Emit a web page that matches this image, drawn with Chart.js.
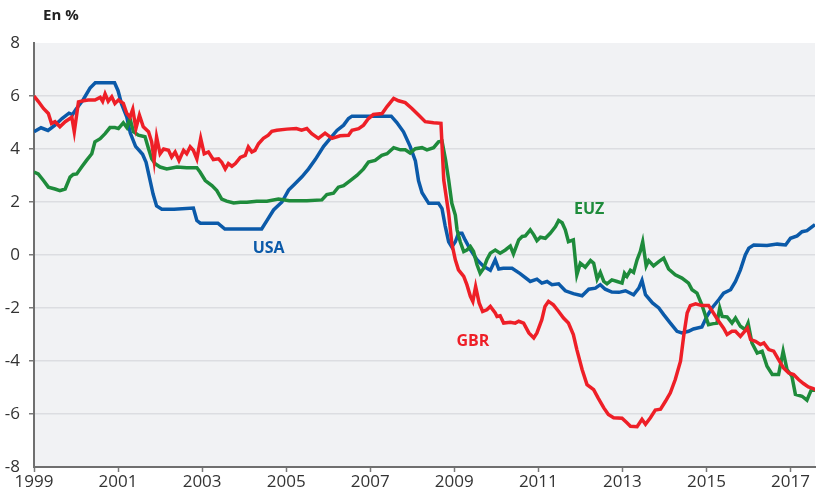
<!DOCTYPE html>
<html><head><meta charset="utf-8">
<script src="https://cdn.jsdelivr.net/npm/chart.js@4/dist/chart.umd.min.js"></script>
<style>html,body{margin:0;padding:0;background:#fff}#wrap{width:822px;height:493px;position:relative}</style>
</head><body><div id="wrap"><canvas id="c" width="822" height="493"></canvas></div>
<script>
// ---- data (months counted from January 1999) ----
const START_YEAR = 1999;
const END_MONTH = 223;
const yearTickLabels = ['1999','2001','2003','2005','2007','2009','2011','2013','2015','2017'];
const valueTicks = [-8,-6,-4,-2,0,2,4,6,8];
const unitLabel = 'En %';
const seriesNames = ['USA','EUZ','GBR'];

const usa = [[0,4.65],[2,4.8],[4,4.7],[6,4.9],[8,5.15],[10,5.35],[11,5.3],[12,5.5],[14,5.85],[16,6.3],
[17.5,6.5],[23,6.5],[24,6.2],[25,5.7],[26.5,5.2],[27.5,4.6],[29,4.1],[31,3.8],[32,3.5],[33,2.9],
[34,2.3],[35,1.85],[36.5,1.73],[40,1.73],[45.5,1.77],[46.5,1.3],[47.5,1.2],[52.5,1.2],[54.5,0.98],
[65,0.98],[66.5,1.3],[68.4,1.7],[70.8,2.0],[72.7,2.45],[74.6,2.7],[76.5,2.95],[78.4,3.25],[80.3,3.6],[82.7,4.1],
[84.6,4.4],[86.5,4.7],[88.4,4.9],[89.8,5.15],[90.8,5.24],[102,5.24],[103.6,5.0],[105.5,4.65],[107.4,4.1],[108.9,3.55],
[109.8,2.8],[110.8,2.35],[112.7,1.95],[115.5,1.95],
[116.5,1.75],[117.4,1.1],[118.4,0.5],[119.3,0.3],[120.3,0.5],[121.2,0.82],[122.2,0.82],[123.1,0.57],[124.6,0.2],[126.5,-0.18],
[128.4,-0.43],[130.3,-0.58],[131.7,-0.18],[132.7,-0.53],[134,-0.5],[136.5,-0.5],[138.8,-0.7],[141.7,-1.0],[143.6,-0.91],[145,-1.06],
[146.5,-1.0],[147.9,-1.12],[149.8,-1.09],[151.7,-1.35],[154,-1.46],[156.5,-1.54],[158.4,-1.29],[160.3,-1.25],[161.7,-1.12],[163.1,-1.29],
[165,-1.4],[167,-1.41],[168.9,-1.35],[171.2,-1.5],[172.7,-1.25],[173.6,-0.96],[174.6,-1.5],[176.6,-1.81],[178.4,-2.0],[179.8,-2.25],
[181.7,-2.57],[183.6,-2.88],[185,-2.94],[186.9,-2.88],[188.3,-2.79],[190.7,-2.72],[192.1,-2.32],[193.6,-2.0],[195.5,-1.69],[196.9,-1.44],
[198.9,-1.31],[200.3,-1.0],[201.7,-0.56],[203.1,0.0],[204.1,0.26],[205.5,0.38],[209.3,0.36],[212.2,0.41],[214.6,0.38],[216,0.63],
[217.9,0.72],[219.3,0.88],[220.7,0.92],[223,1.15]];

const euz = [[0,3.13],[1.2,3.06],[2.7,2.81],[4.1,2.56],[6,2.49],[7.4,2.43],[8.9,2.49],[10.3,2.94],[11.2,3.04],[12.2,3.06],
[13.6,3.32],[15,3.57],[16.5,3.82],[17.4,4.27],[18.9,4.39],[20.3,4.58],[21.7,4.81],[23.1,4.81],[24.1,4.77],[25.5,4.99],
[26.5,4.81],[27.4,5.15],[28.4,4.65],[29.8,4.52],[31.7,4.46],[32.7,4.01],[33.6,3.63],[34.6,3.44],[36,3.32],[37.9,3.25],
[40.8,3.32],[43.6,3.29],[46.5,3.29],[47.4,3.13],[48.9,2.81],[50.8,2.62],[52.2,2.43],[53.6,2.11],[55,2.03],[57,1.96],
[58.9,1.99],[60.8,1.99],[63.6,2.03],[66.5,2.03],[69.8,2.11],[72.9,2.05],[77.9,2.05],[82.2,2.08],[83.6,2.28],[85.5,2.33],
[86.9,2.56],[88.4,2.62],[90.3,2.81],[92.2,3.0],[94.1,3.25],[95.5,3.51],[97.4,3.57],[99.3,3.76],[100.8,3.82],[102.7,4.05],
[104.6,3.97],[106,3.97],[107.4,3.85],[108.9,4.01],[110.8,4.05],[112.2,3.97],[114.1,4.05],[115.5,4.27],[116.5,4.3],[117.5,3.6],
[118.4,2.83],[119.3,1.95],[120.3,1.51],[120.8,0.95],[121.7,0.5],[122.7,0.13],[123.6,0.19],[124.6,0.32],[125.5,0.13],[126.5,-0.37],
[127.4,-0.69],[128.4,-0.5],[129.3,-0.18],[130.3,0.07],[131.7,0.19],[133.1,0.07],[134.6,0.19],[136,0.34],[136.9,0.04],[138.4,0.57],
[139.4,0.7],[140.3,0.72],[141.7,0.95],[142.7,0.76],[143.6,0.54],[144.6,0.67],[146,0.63],[147.4,0.82],[148.9,1.07],[149.8,1.3],
[150.8,1.22],[151.7,0.95],[152.6,0.5],[154,0.57],[155,-0.75],[156,-0.31],[157.4,-0.46],[158.9,-0.21],[159.8,-0.31],[160.8,-0.91],
[161.7,-0.66],[162.7,-1.0],[163.6,-1.09],[165,-0.94],[166.5,-1.0],[167.9,-1.06],[168.6,-0.69],[169.3,-0.81],[170.3,-0.58],[171.2,-0.66],
[172.2,-0.18],[173.1,0.13],[173.8,0.5],[174.8,-0.41],[175.5,-0.21],[176.9,-0.41],[178.4,-0.25],[179.8,-0.12],[181.2,-0.53],[183.1,-0.75],
[185,-0.87],[186.9,-1.06],[187.9,-1.31],[189.3,-1.44],[190.7,-1.88],[192.1,-2.44],[192.6,-2.63],[194,-2.59],[195,-2.57],[195.8,-2.0],
[196.5,-2.32],[197.9,-2.34],[199.3,-2.57],[200.3,-2.38],[201.7,-2.69],[203.1,-2.82],[203.9,-2.57],[205,-3.32],[206.5,-3.7],[207.9,-3.63],
[209.3,-4.2],[210.8,-4.51],[212.6,-4.51],[213.9,-3.63],[215,-4.32],[216.4,-4.57],[217.4,-5.26],[219.3,-5.33],[220.7,-5.48],[221.9,-5.1],
[223.4,-5.1]];

const gbr = [[0,6.0],[1.2,5.8],[2.7,5.53],[4.1,5.34],[5,4.96],[6,5.03],[7.4,4.84],[8.9,5.03],[10.8,5.2],[11.5,4.65],
[12.7,5.78],[14.1,5.82],[15.5,5.85],[17.4,5.85],[18.9,5.95],[19.6,5.8],[20.3,6.08],[21.2,5.8],[22.2,5.97],[23.1,5.72],
[24.1,5.85],[25.5,5.72],[26.5,5.34],[27.4,5.2],[28.2,5.5],[29.1,4.77],[30.1,5.28],[31.2,4.84],[32.7,4.65],[33.6,4.27],
[34.3,3.57],[35,4.46],[36,3.82],[37,4.0],[38.4,3.95],[39.3,3.7],[40.3,3.89],[41.4,3.57],[42.7,3.95],[43.6,3.82],
[44.6,4.08],[45.5,3.95],[46.5,3.63],[47.6,4.4],[48.6,3.82],[49.8,3.89],[51.2,3.6],[52.7,3.63],[53.6,3.5],[54.6,3.25],
[55.5,3.45],[56.5,3.35],[57.5,3.45],[58.9,3.68],[60.3,3.76],[61.2,4.08],[62.2,3.89],[63.1,3.95],[64.1,4.2],[65.5,4.4],
[66.9,4.52],[67.9,4.67],[69.3,4.71],[72.2,4.75],[74.9,4.77],[76.4,4.71],[77.9,4.77],[79.3,4.58],[81.2,4.4],[83.1,4.6],
[85.1,4.4],[87.4,4.5],[89.8,4.52],[90.8,4.71],[92.7,4.77],[94.1,4.9],[95.5,5.15],[96.9,5.3],[99.4,5.34],[100.8,5.6],
[102.7,5.91],[104.1,5.82],[106,5.75],[107.9,5.53],[109.8,5.28],[111.7,5.03],[114.1,4.99],[116.2,4.97],[117,2.83],[118.4,1.57],
[119.3,0.44],[120.3,-0.18],[121.2,-0.56],[122.7,-0.81],[123.6,-1.12],[124.6,-1.56],[125.3,-1.75],[126.1,-1.19],[127.1,-1.81],[128.1,-2.13],
[129.3,-2.07],[130.3,-1.94],[131.7,-2.19],[132.2,-2.32],[133.1,-2.29],[134.1,-2.57],[136,-2.54],[137.4,-2.57],[138.4,-2.5],[139.8,-2.57],
[141.3,-2.94],[142.7,-3.13],[143.6,-2.94],[145,-2.44],[145.9,-1.94],[146.9,-1.75],[148.3,-1.88],[149.8,-2.13],[151.2,-2.38],[152.6,-2.57],
[154,-3.0],[155,-3.57],[156.5,-4.32],[157.9,-4.89],[159.8,-5.08],[161.1,-5.4],[162.7,-5.77],[164,-6.02],[165.5,-6.14],[167.9,-6.16],
[169.3,-6.33],[170.3,-6.46],[172.2,-6.48],[173.6,-6.2],[174.6,-6.39],[176,-6.14],[177.4,-5.85],[178.9,-5.82],[180.3,-5.52],[181.7,-5.2],
[183.1,-4.7],[184.6,-4.01],[185.5,-3.07],[186.5,-2.19],[187.4,-1.91],[188.9,-1.84],[190.7,-1.91],[192.6,-1.91],[194,-2.19],[195.5,-2.5],
[196.9,-2.76],[197.9,-3.0],[199.3,-2.88],[200.3,-2.88],[201.7,-3.07],[203.7,-2.76],[204.6,-3.19],[206,-3.26],[207.4,-3.38],[208.4,-3.32],
[209.8,-3.57],[211.2,-3.63],[212.6,-3.95],[214,-4.26],[215.5,-4.45],[216.9,-4.51],[218.3,-4.7],[219.7,-4.85],[221.1,-4.98],[222.5,-5.04],
[223.4,-5.1]];

// label anchors in data units: [month, value]
const seriesLabelAnchors = [[67,0.26],[158.5,1.71],[125.3,-3.25]];

// ---- styling ----
const COLORS = ['#0b5aa9','#1e8b3b','#ee1f27'];
const FONT = '"Open Sans", "Liberation Sans", sans-serif';
const toYear = m => START_YEAR + m / 12;
const toPoints = arr => arr.map(([m, v]) => ({x: toYear(m), y: v}));

const bgPlugin = {
  id: 'bg',
  beforeDraw(chart) {
    const {ctx, chartArea: a} = chart;
    ctx.save();
    ctx.fillStyle = '#f1f2f4';
    ctx.fillRect(a.left, a.top, a.right - a.left, a.bottom - a.top);
    ctx.restore();
  },
  afterDraw(chart) {
    const {ctx, scales} = chart;
    ctx.save();
    ctx.font = 'bold 16px ' + FONT;
    ctx.textAlign = 'center';
    ctx.textBaseline = 'middle';
    seriesNames.forEach((n, i) => {
      const [m, v] = seriesLabelAnchors[i];
      ctx.fillStyle = COLORS[i];
      ctx.fillText(n, scales.x.getPixelForValue(toYear(m)), scales.y.getPixelForValue(v));
    });
    ctx.font = 'bold 15px ' + FONT;
    ctx.fillStyle = '#222';
    ctx.textAlign = 'left';
    ctx.fillText(unitLabel, chart.chartArea.left + 9, 16);
    ctx.restore();
  }
};

const series = [usa, euz, gbr];
new Chart(document.getElementById('c'), {
  type: 'line',
  data: {
    datasets: series.map((s, i) => ({
      label: seriesNames[i],
      data: toPoints(s),
      borderColor: COLORS[i],
      backgroundColor: COLORS[i],
      borderWidth: 3.5,
      pointRadius: 0,
      tension: 0,
      fill: false,
      order: [3, 2, 1][i]
    }))
  },
  options: {
    responsive: false,
    animation: false,
    devicePixelRatio: 1,
    layout: {padding: {left: 0, right: 7, top: 43, bottom: 0}},
    plugins: {legend: {display: false}, tooltip: {enabled: false}},
    scales: {
      x: {
        type: 'linear',
        min: START_YEAR,
        max: toYear(END_MONTH),
        afterBuildTicks: s => { s.ticks = yearTickLabels.map(t => ({value: Number(t)})); },
        afterFit: s => { s.height = 26; },
        ticks: {
          callback: v => String(v),
          color: '#333', font: {family: FONT, size: 17}, padding: 0, maxRotation: 0, autoSkip: false
        },
        grid: {drawOnChartArea: false, tickLength: 5, tickColor: '#7a7a7a', tickWidth: 1.5},
        border: {color: '#6f6f6f', width: 2}
      },
      y: {
        min: -8, max: 8,
        afterBuildTicks: s => { s.ticks = valueTicks.map(v => ({value: v})); },
        afterFit: s => { s.width = 34; },
        ticks: {color: '#333', font: {family: FONT, size: 17}, padding: 9},
        grid: {
          color: c => (c.tick && Math.abs(c.tick.value) === 8) ? 'rgba(0,0,0,0)' : '#dcdde1',
          tickColor: c => (c.tick && Math.abs(c.tick.value) === 8) ? 'rgba(0,0,0,0)' : '#7a7a7a',
          tickLength: 5, lineWidth: 1.5, tickWidth: 1.5
        },
        border: {color: '#6f6f6f', width: 2}
      }
    }
  },
  plugins: [bgPlugin]
});
</script></body></html>
